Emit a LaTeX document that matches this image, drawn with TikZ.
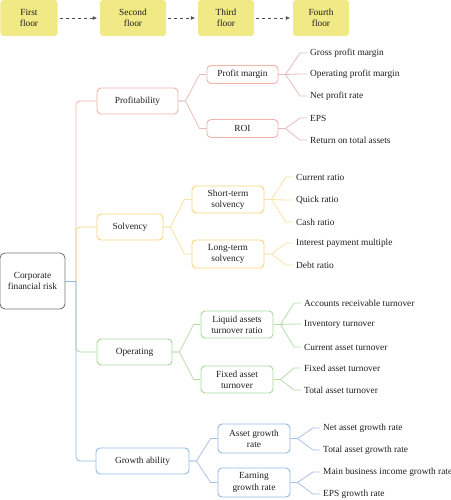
\documentclass[tikz,border=0pt]{standalone}
\usepackage{fontspec}
\setmainfont{Liberation Serif}
\usetikzlibrary{arrows.meta,calc}
\definecolor{floorfill}{RGB}{240,233,133}
\definecolor{pinkB}{RGB}{244,178,168}
\definecolor{pinkL}{RGB}{228,190,182}
\definecolor{yellowB}{RGB}{248,212,115}
\definecolor{yellowL}{RGB}{245,228,168}
\definecolor{greenB}{RGB}{168,214,158}
\definecolor{greenL}{RGB}{182,222,172}
\definecolor{blueB}{RGB}{148,184,226}
\definecolor{blueL}{RGB}{165,196,232}
\definecolor{rootB}{RGB}{120,120,120}
\definecolor{txt}{RGB}{30,30,30}
\tikzset{
  every node/.style={font=\fontsize{9.4}{11.3}\selectfont, text=txt},
  floorbox/.style={fill=floorfill, rounded corners=3bp, minimum width=57bp, minimum height=36bp, align=center, inner sep=0},
  floorarrow/.style={draw=black!70, dashed, line width=0.6bp, -{Triangle[length=4bp,width=3.5bp]}},
  box/.style={draw=#1, line width=0.9bp, rounded corners=4bp, align=center, inner sep=0},
  leaf/.style={anchor=west, inner xsep=0, inner ysep=1bp},
  conn/.style={draw=#1, line width=0.8bp},
}
\begin{document}
\begin{tikzpicture}[x=1bp,y=-1bp]
\useasboundingbox (0,0) rectangle (451,500);
% floors
\node[floorbox] (f1) at (29,18) {First\\floor};
\node[floorbox, minimum width=66bp] (f2) at (133,18) {Second\\floor};
\node[floorbox, minimum width=56bp] (f3) at (226,18) {Third\\floor};
\node[floorbox, minimum width=56bp] (f4) at (321,18) {Fourth\\floor};
\draw[floorarrow] ([xshift=2bp]f1.east) -- ([xshift=-3bp]f2.west);
\draw[floorarrow] ([xshift=2bp]f2.east) -- ([xshift=-3bp]f3.west);
\draw[floorarrow] ([xshift=2bp]f3.east) -- ([xshift=-3bp]f4.west);

% root
\node[box=rootB, rounded corners=5bp, minimum width=65bp, minimum height=56bp] (root) at (32.5,281) {Corporate\\financial risk};
\coordinate (spine) at (76,281);

% level 1
\node[box=pinkB, minimum width=81bp, minimum height=26bp] (prof) at (137.5,101) {Profitability};
\node[box=yellowB, minimum width=66bp, minimum height=26bp] (solv) at (130,227) {Solvency};
\node[box=greenB, minimum width=75bp, minimum height=26bp] (oper) at (134.5,352) {Operating};
\node[box=blueB, minimum width=93bp, minimum height=26bp] (grow) at (142.5,461) {Growth ability};

\draw[conn=pinkB, rounded corners=4bp] (spine) |- (prof.west);
\draw[conn=yellowB, rounded corners=4bp] (spine) |- (solv.west);
\draw[conn=greenB, rounded corners=4bp] (spine) |- (oper.west);
\draw[conn=blueB, rounded corners=4bp] (spine) |- (grow.west);
\draw[conn=blueB] (root.east) -- (spine);

% level 2
\node[box=pinkB, minimum width=71bp, minimum height=18bp] (pm) at (242.5,74.5) {Profit margin};
\node[box=pinkB, minimum width=71bp, minimum height=18bp] (roi) at (242.5,128.5) {ROI};
\node[box=yellowB, minimum width=72bp, minimum height=27bp] (st) at (228,199.5) {Short-term\\solvency};
\node[box=yellowB, minimum width=72bp, minimum height=28bp] (lt) at (228,254) {Long-term\\solvency};
\node[box=greenB, minimum width=72bp, minimum height=27bp] (liq) at (237,324.5) {Liquid assets\\turnover ratio};
\node[box=greenB, minimum width=72bp, minimum height=27bp] (fix) at (237,379.5) {Fixed asset\\turnover};
\node[box=blueB, minimum width=72bp, minimum height=29bp] (agr) at (254,438.5) {Asset growth\\rate};
\node[box=blueB, minimum width=72bp, minimum height=29bp] (egr) at (254,482.5) {Earning\\growth rate};

\foreach \p/\c/\k in {prof/pm/pinkL, prof/roi/pinkL, solv/st/yellowL, solv/lt/yellowL, oper/liq/greenL, oper/fix/greenL, grow/agr/blueL, grow/egr/blueL}{
  \draw[conn=\k] (\p.east) -- ++(7,0) -- ($(\c.west)+(-7,0)$) -- (\c.west);
}

% leaves
\node[leaf] (l1) at (310,53) {Gross profit margin};
\node[leaf] (l2) at (310,74) {Operating profit margin};
\node[leaf] (l3) at (310,96) {Net profit rate};
\node[leaf] (l4) at (310,118) {EPS};
\node[leaf] (l5) at (310,140) {Return on total assets};
\node[leaf] (l6) at (296,177) {Current ratio};
\node[leaf] (l7) at (296,200) {Quick ratio};
\node[leaf] (l8) at (296,222) {Cash ratio};
\node[leaf] (l9) at (296,243) {Interest payment multiple};
\node[leaf] (l10) at (296,265) {Debt ratio};
\node[leaf] (l11) at (304,303) {Accounts receivable turnover};
\node[leaf] (l12) at (304,324) {Inventory turnover};
\node[leaf] (l13) at (304,347) {Current asset turnover};
\node[leaf] (l14) at (304,368) {Fixed asset turnover};
\node[leaf] (l15) at (304,390) {Total asset turnover};
\node[leaf] (l16) at (323,428) {Net asset growth rate};
\node[leaf] (l17) at (323,450) {Total asset growth rate};
\node[leaf] (l18) at (323,472) {Main business income growth rate};
\node[leaf] (l19) at (323,494) {EPS growth rate};

\foreach \p/\c/\k in {pm/l1/pinkL, pm/l2/pinkL, pm/l3/pinkL, roi/l4/pinkL, roi/l5/pinkL,
  st/l6/yellowL, st/l7/yellowL, st/l8/yellowL, lt/l9/yellowL, lt/l10/yellowL,
  liq/l11/greenL, liq/l12/greenL, liq/l13/greenL, fix/l14/greenL, fix/l15/greenL,
  agr/l16/blueL, agr/l17/blueL, egr/l18/blueL, egr/l19/blueL}{
  \draw[conn=\k] (\p.east) -- ++(7,0) -- ($(\c.west)+(-10,0)$) -- ($(\c.west)+(-3,0)$);
}
\end{tikzpicture}
\end{document}
